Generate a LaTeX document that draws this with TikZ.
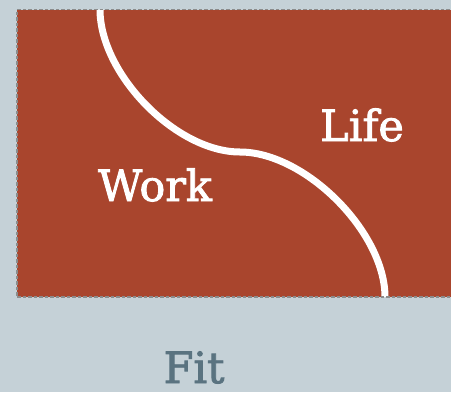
\documentclass[tikz,border=0pt]{standalone}
\usepackage{fontspec}
\setmainfont{DejaVu Serif}[BoldFont={DejaVu Serif}, BoldFeatures={FakeBold=2}]
\definecolor{bgblue}{HTML}{C5D1D7}
\definecolor{rust}{HTML}{A9452D}
\definecolor{slate}{HTML}{5A7380}
\definecolor{edge}{HTML}{8C8C8C}
\begin{document}
\begin{tikzpicture}[x=1pt,y=-1pt,
  label text/.style={font=\fontsize{43}{48}\selectfont\bfseries, anchor=base, inner sep=0pt},
  divider/.style={draw=white, line width=7pt},
  frame/.style={draw=edge, line width=1.3pt, dash pattern=on 3.5pt off 2pt}]
  % canvas
  \fill[bgblue] (0,0) rectangle (451,392);
  \useasboundingbox (0,0) rectangle (451,392);
  \begin{scope}
    \clip (0,0) rectangle (451,392);
    % the field
    \fill[rust] (17,9.5) rectangle (455,297);
    % the dividing curve
    \coordinate (top) at (100,9.5);
    \coordinate (mid) at (240,152);
    \coordinate (bot) at (385,297);
    \draw[divider] (top) .. controls (100,74) and (176,152) .. (mid)
                         .. controls (305,152) and (385,232) .. (bot);
    % dashed outline, open on the right
    \draw[frame] (455,9.5) -- (17,9.5) -- (17,297) -- (455,297);
  \end{scope}
  % labels
  \node[label text, text=white] (work) at (155,201) {Work};
  \node[label text, text=white] (life) at (362,141) {Life};
  \node[label text, text=slate] (fit) at (194,383) {Fit};
\end{tikzpicture}
\end{document}
